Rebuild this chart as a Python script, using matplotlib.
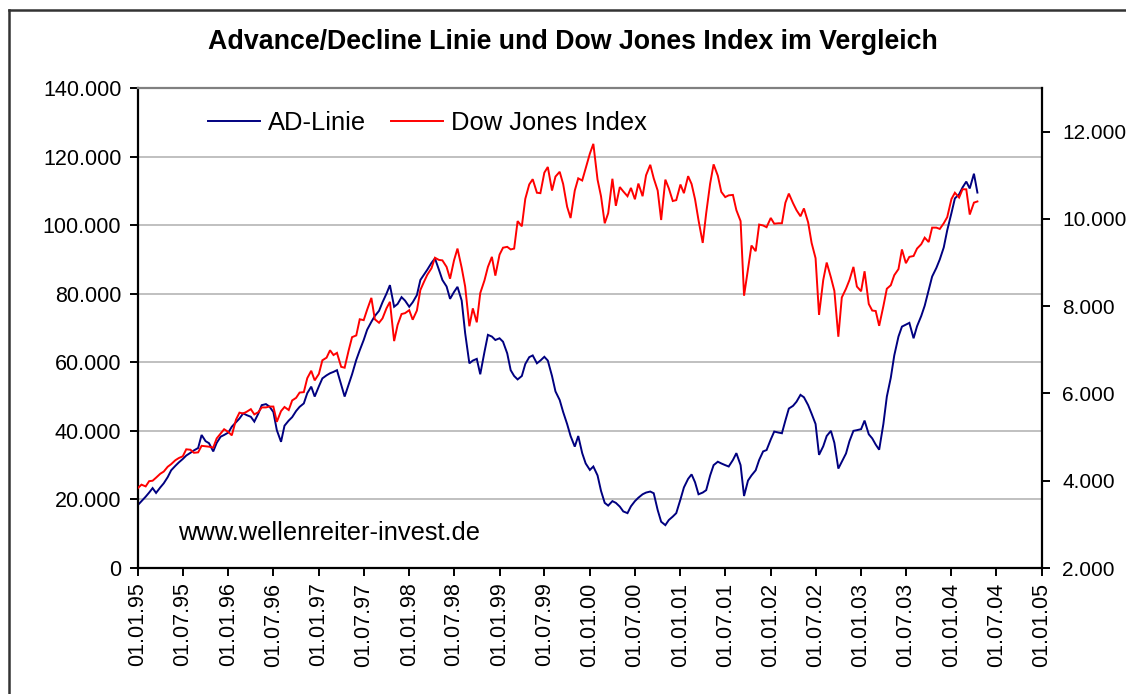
import matplotlib
matplotlib.use("Agg")
import matplotlib.pyplot as plt
import matplotlib.dates as mdates
from matplotlib.ticker import FuncFormatter, FixedLocator
from matplotlib.lines import Line2D
import numpy as np
import pandas as pd
from datetime import datetime

plt.rcParams['font.family'] = ['Liberation Sans', 'DejaVu Sans']

# semi-monthly observation dates (1st and 15th of each month), Jan 1995 - Apr 2004
dates = pd.date_range('1995-01-01', '2004-04-15', freq='SMS')

# Advance/Decline line (in thousands)
ad_k = [
    # 1995
    18.4, 19.5, 20.8, 22.0, 23.3, 21.9, 23.5, 24.7, 26.5, 28.5, 29.8, 30.8,
    31.8, 32.8, 33.6, 34.3, 35.0, 38.8, 37.0, 36.4, 34.0, 36.5, 38.3, 38.8,
    # 1996
    39.5, 41.2, 42.5, 43.6, 45.1, 44.6, 44.1, 42.7, 45.0, 47.5, 47.8, 47.1,
    45.5, 40.2, 36.8, 41.5, 43.0, 44.0, 45.8, 47.0, 48.0, 51.0, 52.9, 50.0,
    # 1997
    53.0, 55.3, 56.2, 56.8, 57.2, 57.7, 53.5, 50.0, 53.5, 56.5, 60.7, 63.5,
    66.5, 69.5, 71.8, 73.5, 75.0, 77.5, 80.0, 82.5, 76.2, 77.0, 79.0, 78.0,
    # 1998
    76.2, 77.5, 79.6, 84.0, 85.5, 87.0, 89.0, 90.3, 87.0, 84.0, 82.1, 78.5,
    80.5, 82.0, 78.0, 68.5, 59.7, 60.5, 61.0, 56.5, 63.0, 68.0, 67.5, 66.5,
    # 1999
    67.0, 66.0, 62.6, 57.7, 56.0, 55.0, 56.0, 59.5, 61.5, 62.0, 59.7, 60.5,
    61.6, 60.5, 56.0, 51.5, 49.0, 45.5, 42.0, 38.5, 35.4, 38.5, 33.5, 30.5,
    # 2000
    28.6, 29.6, 27.0, 22.5, 19.0, 18.2, 19.5, 19.0, 17.9, 16.5, 16.0, 18.0,
    19.5, 20.5, 21.5, 22.0, 22.3, 21.8, 16.9, 13.5, 12.5, 14.0, 15.0, 16.0,
    # 2001
    20.0, 23.5, 26.0, 27.3, 25.0, 21.5, 22.0, 22.7, 27.0, 30.0, 31.0, 30.5,
    30.0, 29.6, 31.5, 33.5, 30.0, 21.0, 25.5, 27.0, 28.5, 31.5, 34.0, 34.4,
    # 2002
    37.5, 39.8, 39.5, 39.3, 43.0, 46.5, 47.3, 48.5, 50.5, 49.8, 47.5, 45.0,
    42.0, 33.0, 35.5, 38.5, 40.0, 36.5, 29.0, 31.0, 33.4, 37.0, 40.0, 40.2,
    # 2003
    40.5, 43.0, 39.0, 37.8, 36.0, 34.5, 42.0, 50.0, 55.5, 62.0, 67.5, 70.4,
    71.0, 71.5, 67.0, 70.5, 73.5, 76.5, 81.0, 85.0, 87.5, 90.0, 93.5, 98.5,
    # 2004
    103.5, 107.8, 109.0, 111.0, 112.7, 110.7, 115.0, 109.5,
]

# Dow Jones Index
dow = [
    # 1995
    3834, 3910, 3870, 3990, 4000, 4070, 4160, 4210, 4320, 4380, 4470, 4520,
    4560, 4720, 4710, 4640, 4650, 4800, 4790, 4780, 4760, 4970, 5080, 5180,
    # 1996
    5117, 5040, 5400, 5560, 5540, 5580, 5640, 5520, 5570, 5680, 5680, 5700,
    5700, 5350, 5595, 5690, 5620, 5840, 5900, 6020, 6030, 6350, 6520, 6300,
    # 1997
    6448, 6760, 6820, 6990, 6880, 6930, 6610, 6590, 6980, 7290, 7330, 7700,
    7680, 7920, 8190, 7700, 7620, 7720, 7950, 8100, 7200, 7570, 7820, 7840,
    # 1998
    7908, 7690, 7900, 8370, 8550, 8720, 8870, 9110, 9060, 9050, 8900, 8630,
    9050, 9320, 8880, 8450, 7540, 7950, 7630, 8300, 8590, 8900, 9130, 8700,
    # 1999
    9181, 9340, 9360, 9300, 9320, 9950, 9830, 10460, 10790, 10910, 10600, 10590,
    11060, 11190, 10650, 10970, 11080, 10800, 10280, 10020, 10650, 10930, 10880, 11160,
    # 2000
    11497, 11720, 10900, 10520, 9900, 10130, 10920, 10300, 10730, 10630, 10520, 10710,
    10450, 10810, 10520, 11000, 11240, 10930, 10650, 9975, 10900, 10700, 10410, 10430,
    # 2001
    10788, 10590, 10980, 10800, 10450, 9970, 9450, 10130, 10810, 11250, 10990, 10620,
    10500, 10540, 10550, 10200, 9950, 8240, 8850, 9390, 9260, 9870, 9850, 9810,
    # 2002
    10022, 9890, 9900, 9900, 10370, 10580, 10360, 10200, 10060, 10240, 9920, 9450,
    9100, 7800, 8600, 9000, 8660, 8350, 7300, 8200, 8400, 8600, 8900, 8450,
    # 2003
    8342, 8800, 8050, 7900, 7890, 7550, 8000, 8400, 8480, 8710, 8850, 9300,
    8985, 9130, 9150, 9320, 9420, 9570, 9470, 9800, 9800, 9770, 9900, 10040,
    # 2004
    10454, 10600, 10490, 10680, 10678, 10100, 10373, 10400,
]

title = "Advance/Decline Linie und Dow Jones Index im Vergleich"
left_ticks = [0, 20000, 40000, 60000, 80000, 100000, 120000, 140000]
right_ticks = [2000, 4000, 6000, 8000, 10000, 12000]
watermark = "www.wellenreiter-invest.de"

W, H = 1126, 694
fig = plt.figure(figsize=(W / 100, H / 100), dpi=100)
fig.patch.set_facecolor('white')

L, R, T, B = 138, 1042, 88, 568
ax = fig.add_axes([L / W, 1 - B / H, (R - L) / W, (B - T) / H])
ax2 = ax.twinx()

ad = np.array(ad_k) * 1000.0
ax.plot(dates, ad, color='#000080', lw=1.4, label='AD-Linie', solid_joinstyle='miter')
ax2.plot(dates, dow, color='#ff0000', lw=1.4, label='Dow Jones Index', solid_joinstyle='miter')

fmt = FuncFormatter(lambda v, p: f"{int(round(v)):,}".replace(",", "."))

ax.set_ylim(0, 140000)
ax.yaxis.set_major_locator(FixedLocator(left_ticks))
ax.yaxis.set_major_formatter(fmt)
ax2.set_ylim(2000, 13000)
ax2.yaxis.set_major_locator(FixedLocator(right_ticks))
ax2.yaxis.set_major_formatter(fmt)

ax.set_xlim(datetime(1995, 1, 1), datetime(2005, 1, 1))
ax.xaxis.set_major_locator(mdates.MonthLocator(bymonth=[1, 7], bymonthday=1))
ax.xaxis.set_major_formatter(mdates.DateFormatter('%d.%m.%y'))

ax.grid(axis='y', color='#c0c0c0', lw=1.4)
ax.set_axisbelow(True)

fs = 15.5
ax.tick_params(axis='y', direction='out', length=6, width=1.4, pad=6, labelsize=fs, colors='black')
ax.tick_params(axis='x', direction='out', length=6, width=1.4, pad=4.5, labelsize=fs, labelrotation=90)
ax2.tick_params(axis='y', direction='out', length=6, width=1.4, pad=8.5, labelsize=15)
for lab in ax.get_xticklabels():
    lab.set_ha('center')
    lab.set_va('top')

for s in ['left', 'bottom']:
    ax.spines[s].set_color('black')
    ax.spines[s].set_linewidth(1.6)
ax.spines['top'].set_color('#808080')
ax.spines['top'].set_linewidth(1.6)
ax.spines['right'].set_visible(False)
for s in ['left', 'bottom', 'top']:
    ax2.spines[s].set_visible(False)
ax2.spines['right'].set_color('black')
ax2.spines['right'].set_linewidth(1.6)

fig.text(573 / W, 1 - 42 / H, title, ha='center', va='center', fontsize=19.3, fontweight='bold')

fig.text(178 / W, 1 - 533 / H, watermark, ha='left', va='center', fontsize=18.4)

h1, l1 = ax.get_legend_handles_labels()
h2, l2 = ax2.get_legend_handles_labels()
fig.legend(h1 + h2, l1 + l2, loc='center left', bbox_to_anchor=(208 / W, 1 - 123 / H),
           frameon=False, ncol=2, fontsize=18.4, handlelength=2.03, handletextpad=0.31,
           columnspacing=0.98, borderpad=0, borderaxespad=0)

# chart-area frame (only top and left edges visible in the cropped picture)
fig.add_artist(Line2D([9 / W, 9 / W], [0, 1 - 10 / H], transform=fig.transFigure, color='#333333', lw=1.8))
fig.add_artist(Line2D([9 / W, 1], [1 - 10 / H, 1 - 10 / H], transform=fig.transFigure, color='#333333', lw=1.8))

fig.savefig('out.png', dpi=100, facecolor='white')
